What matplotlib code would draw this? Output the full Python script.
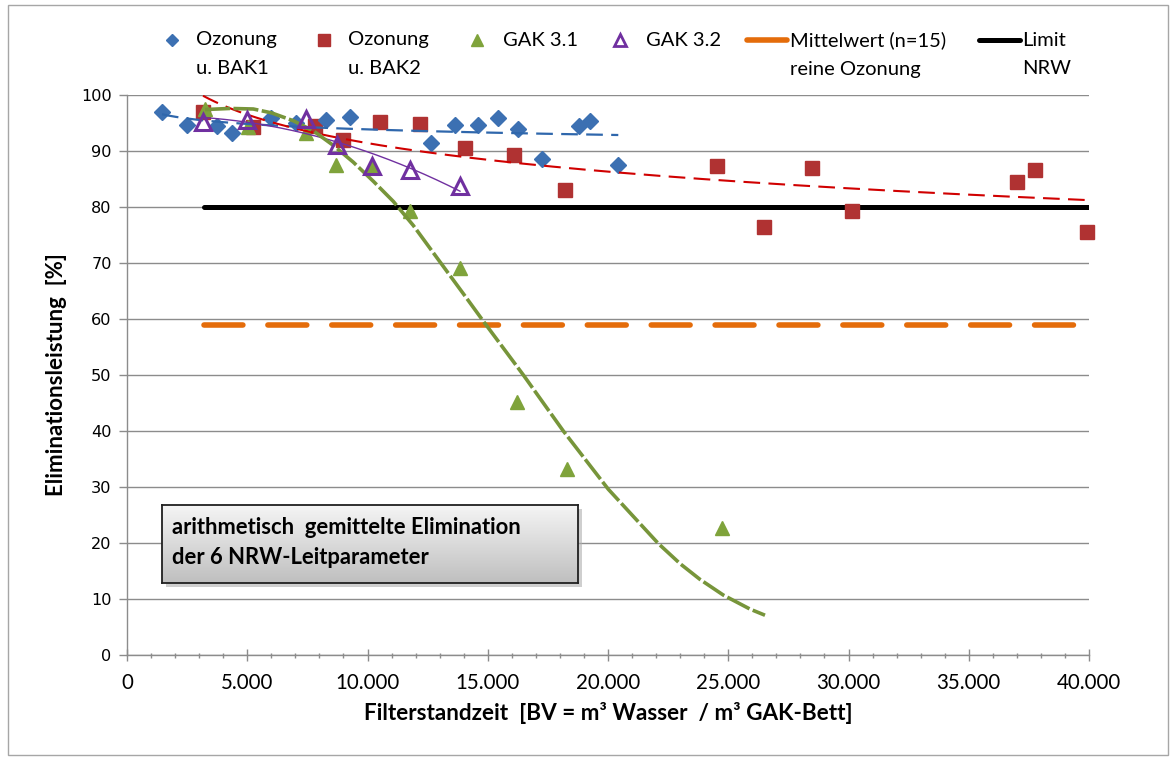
import numpy as np
import matplotlib
matplotlib.use("Agg")
import matplotlib.pyplot as plt
from matplotlib.lines import Line2D
from matplotlib.patches import Rectangle
from matplotlib.ticker import MultipleLocator, FuncFormatter

# ---------------- data ----------------
bak1_x = [1455, 2495, 3743, 4366, 6008, 7027, 8274, 9272, 12620, 13638,
          14595, 15426, 16258, 17243, 18807, 19252, 20428]
bak1_y = [96.9, 94.7, 94.4, 93.3, 95.9, 95.0, 95.5, 96.0, 91.5, 94.6,
          94.6, 95.9, 93.9, 88.6, 94.5, 95.4, 87.5]

bak2_x = [3160, 5239, 7817, 8981, 10540, 12183, 14054, 16091, 18212, 24520,
          26486, 28470, 30133, 36994, 37755, 39904]
bak2_y = [97.0, 94.2, 94.5, 92.0, 95.1, 94.9, 90.5, 89.2, 83.0, 87.3,
          76.4, 87.0, 79.3, 84.4, 86.6, 75.6]

gak31_x = [3243, 5044, 7443, 8690, 10175, 11767, 13846, 16229, 18283, 24728]
gak31_y = [97.5, 94.3, 93.2, 87.5, 87.2, 79.2, 69.1, 45.1, 33.3, 22.6]

gak32_x = [3148, 4977, 7443, 8719, 10175, 11767, 13846]
gak32_y = [95.2, 95.5, 95.7, 91.1, 87.4, 86.6, 83.7]

# GAK 3.1 trend curve as drawn in the reference
gak31_trend_x = [3243, 4283, 5252, 6016, 6915, 7747, 8578, 9410, 10241, 11073,
                 11905, 12877, 14124, 14886, 16480, 18142, 20013, 22093,
                 23000, 23825, 24795, 25904, 26528]
gak31_trend_y = [97.4, 97.6, 97.5, 96.8, 95.4, 93.6, 91.0, 88.0, 84.6, 81.0,
                 76.7, 71.0, 63.7, 59.2, 50.0, 40.0, 29.6, 19.9,
                 16.3, 13.5, 10.7, 8.2, 7.1]

mean_x = [3200, 40000]
mean_y = [58.9, 58.9]
limit_x = [3200, 40000]
limit_y = [80, 80]

bak2_trend_end = 40000

x_label = "Filterstandzeit  [BV = m\u00b3 Wasser  / m\u00b3 GAK-Bett]"
y_label = "Eliminationsleistung  [%]"
box_lines = ["arithmetisch  gemittelte Elimination", "der 6 NRW-Leitparameter"]

# ---------------- styling ----------------
plt.rcParams['lines.scale_dashes'] = False
W, H = 1175, 760
fig = plt.figure(figsize=(W / 100, H / 100), dpi=100)
fig.patch.set_facecolor('white')

def fx(px):
    return px / W

def fy(py):
    return 1 - py / H

ax = fig.add_axes([fx(127), fy(655), (1089 - 127) / W, (655 - 95) / H])
ax.set_xlim(0, 40000)
ax.set_ylim(0, 100)

GRAY = '#8C8C8C'
ax.yaxis.grid(True, color=GRAY, lw=1.0)
ax.set_axisbelow(True)
for s in ['top', 'right']:
    ax.spines[s].set_visible(False)
for s in ['left', 'bottom']:
    ax.spines[s].set_color(GRAY)
    ax.spines[s].set_linewidth(1.0)

ax.xaxis.set_major_locator(MultipleLocator(5000))
ax.xaxis.set_minor_locator(MultipleLocator(1000))
ax.yaxis.set_major_locator(MultipleLocator(10))
ax.xaxis.set_major_formatter(FuncFormatter(lambda v, p: f"{int(round(v)):,}".replace(",", ".")))
ax.tick_params(axis='x', which='major', direction='inout', length=8.5, width=1,
               color=GRAY, pad=9, labelsize=14.8, labelcolor='black')
ax.tick_params(axis='x', which='minor', direction='inout', length=3.6, width=1, color=GRAY)
ax.tick_params(axis='y', which='major', direction='out', length=6, width=1,
               color=GRAY, pad=5, labelsize=11.6)
for t in ax.get_xticklabels():
    t.set_fontfamily('Lato')
for t in ax.get_yticklabels():
    t.set_fontfamily('DejaVu Sans')

ax.set_xlabel(x_label, fontsize=16.2, fontweight='bold', family='Lato', labelpad=6)
ax.set_ylabel(y_label, fontsize=16, fontweight='bold', family='Lato', labelpad=10)

# reference lines
ax.plot(mean_x, mean_y, color='#E46C0A', lw=4.0, dashes=(28, 18),
        dash_capstyle='round', solid_capstyle='round', zorder=2)
ax.plot(limit_x, limit_y, color='black', lw=3.6, solid_capstyle='round', zorder=2)

# markers
C_BLUE = '#3C70B2'
C_RED = '#B03232'
C_GREEN = '#7FA33B'
C_PURPLE = '#7030A0'
ax.plot(bak2_x, bak2_y, ls='none', marker='s', ms=10.5, color=C_RED, mec=C_RED, zorder=3, clip_on=False)
ax.plot(bak1_x, bak1_y, ls='none', marker='D', ms=8.0, color=C_BLUE, mec=C_BLUE, zorder=4, clip_on=False)
ax.plot(gak31_x, gak31_y, ls='none', marker='^', ms=10.5, color=C_GREEN, mec=C_GREEN, zorder=4, clip_on=False)

# trend lines
def log_trend(x, y, x0, x1):
    b, a = np.polyfit(np.log(x), y, 1)
    xs = np.linspace(x0, x1, 300)
    return xs, a + b * np.log(xs)

def poly_trend(x, y, deg, x0, x1):
    p = np.polynomial.Polynomial.fit(x, y, deg)
    xs = np.linspace(x0, x1, 300)
    return xs, p(xs)

xs, ys = log_trend(bak1_x, bak1_y, min(bak1_x), max(bak1_x))
ax.plot(xs, ys, color='#2F67AC', lw=1.6, dashes=(12, 6), zorder=5)
xs, ys = log_trend(bak2_x, bak2_y, min(bak2_x), bak2_trend_end)
ax.plot(xs, ys, color='#D00000', lw=1.5, dashes=(12, 6), zorder=5)
xs, ys = poly_trend(gak32_x, gak32_y, 2, min(gak32_x), max(gak32_x))
ax.plot(xs, ys, color=C_PURPLE, lw=1.0, zorder=5)
ax.plot(gak31_trend_x, gak31_trend_y, color='#77953A', lw=2.6, dashes=(18, 2.5),
        solid_joinstyle='round', dash_joinstyle='round', zorder=6)

ax.plot(gak32_x, gak32_y, ls='none', marker='^', ms=11, mfc='none', mec=C_PURPLE,
        mew=2.2, zorder=7, clip_on=False)

# ---------------- legend (manual, two-line entries) ----------------
ly1, ly2 = 40, 69
lfont = dict(fontsize=14.5, family='Lato', va='center', ha='left')
fig.add_artist(Line2D([fx(172)], [fy(ly1)], marker='D', ms=6.5, color=C_BLUE, ls='none'))
fig.text(fx(196), fy(ly1), "Ozonung", **lfont)
fig.text(fx(196), fy(ly2), "u. BAK1", **lfont)
fig.add_artist(Line2D([fx(324)], [fy(ly1)], marker='s', ms=9, color=C_RED, ls='none'))
fig.text(fx(348), fy(ly1), "Ozonung", **lfont)
fig.text(fx(348), fy(ly2), "u. BAK2", **lfont)
fig.add_artist(Line2D([fx(477)], [fy(ly1)], marker='^', ms=9, color=C_GREEN, ls='none'))
fig.text(fx(503), fy(ly1), "GAK 3.1", **lfont)
fig.add_artist(Line2D([fx(620)], [fy(ly1)], marker='^', ms=9, mfc='none', mec=C_PURPLE, mew=2, ls='none'))
fig.text(fx(646), fy(ly1), "GAK 3.2", **lfont)
fig.add_artist(Line2D([fx(747), fx(787)], [fy(ly1), fy(ly1)], color='#E46C0A', lw=4, solid_capstyle='round'))
fig.text(fx(790), fy(ly1), "Mittelwert (n=15)", **lfont)
fig.text(fx(790), fy(ly2), "reine Ozonung", **lfont)
fig.add_artist(Line2D([fx(979), fx(1020)], [fy(ly1), fy(ly1)], color='black', lw=3.6, solid_capstyle='round'))
fig.text(fx(1022), fy(ly1), "Limit", **lfont)
fig.text(fx(1022), fy(ly2), "NRW", **lfont)

# ---------------- text box with gradient ----------------
bx0, by0, bx1, by1 = 162, 505, 578, 583
fig.add_artist(Rectangle((fx(bx0 + 4), fy(by1 + 4)), (bx1 - bx0) / W, (by1 - by0) / H,
                         transform=fig.transFigure, facecolor='#B0B0B0', edgecolor='none',
                         alpha=0.6, zorder=8))
bax = fig.add_axes([fx(bx0), fy(by1), (bx1 - bx0) / W, (by1 - by0) / H], zorder=9)
grad = np.linspace(0.96, 0.75, 64).reshape(-1, 1)
bax.imshow(np.dstack([grad, grad, grad]), aspect='auto', extent=[0, 1, 0, 1], origin='upper')
bax.set_xticks([])
bax.set_yticks([])
for s in bax.spines.values():
    s.set_color('#202020')
    s.set_linewidth(1.3)
for i, line in enumerate(box_lines):
    bax.text(10 / (bx1 - bx0), 1 - (22 + 30 * i) / (by1 - by0), line,
             transform=bax.transAxes, fontsize=15.8, fontweight='bold', family='Lato',
             va='center', ha='left')

# outer chart border
fig.add_artist(Rectangle((fx(8), fy(755)), (1168 - 8) / W, (755 - 5) / H,
                         transform=fig.transFigure, facecolor='none', edgecolor='#A6A6A6', lw=1.0))

fig.savefig("out.png", dpi=100)
